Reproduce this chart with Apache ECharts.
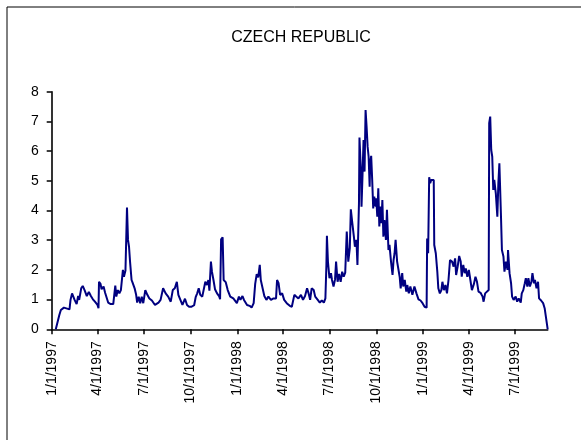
<!DOCTYPE html>
<html>
<head>
<meta charset="utf-8">
<script src="https://cdn.jsdelivr.net/npm/echarts@6/dist/echarts.min.js"></script>
<style>html,body{margin:0;padding:0;background:#fff;}#chart{width:581px;height:440px;}</style>
</head>
<body>
<div id="chart"></div>
<script>
// Series: days since 1/1/1997 and the plotted values
const startYear = 1997;
const lastDay = 975;
const dayOffsets = [8,15,18,24,35,37,40,43,45,49,52,54,58,61,65,69,73,77,81,85,90,92,93,96,98,102,105,108,111,116,121,125,127,130,133,136,138,140,142,145,148,150,152,154,157,159,163,166,168,171,174,177,180,184,188,192,197,203,210,214,219,224,229,234,238,242,246,249,253,257,262,266,270,275,280,283,286,289,292,296,299,302,305,308,310,313,315,318,321,325,329,331,333,336,338,342,346,351,357,364,368,371,375,378,384,389,393,397,400,403,406,409,411,415,418,422,426,431,436,441,443,446,449,453,457,462,468,472,477,481,485,490,494,498,502,505,508,511,515,518,523,527,531,535,538,540,541,543,546,549,551,554,557,559,562,565,568,571,574,577,580,583,586,588,591,594,596,599,601,604,605,608,609,611,613,615,617,619,621,623,625,626,628,630,632,634,637,638,640,642,644,646,648,650,652,654,657,659,662,664,667,670,672,674,676,679,681,684,686,689,691,694,697,699,702,705,709,713,717,721,725,729,733,737,738,740,742,744,746,749,751,752,755,758,760,763,766,768,771,774,777,780,783,787,790,793,795,798,801,804,806,809,812,814,817,820,823,826,830,833,836,839,843,847,849,852,855,859,860,862,864,866,868,870,873,876,878,880,883,885,888,890,893,896,897,900,903,905,908,912,915,918,922,924,927,930,932,935,937,940,943,945,948,950,953,956,958,962,966,969,971,975];
const values = [0,0.48,0.65,0.73,0.67,0.99,1.21,1.19,0.99,0.85,1.12,0.99,1.38,1.46,1.30,1.12,1.26,1.12,1.01,0.93,0.82,0.71,1.60,1.53,1.35,1.44,1.23,1.21,0.90,0.85,0.85,1.47,1.10,1.32,1.21,1.32,1.30,2.00,1.77,1.98,4.10,3.01,2.78,2.28,1.66,1.57,1.38,1.16,0.90,1.10,0.88,1.10,0.88,1.32,1.16,1.04,0.97,0.82,0.90,0.99,1.38,1.21,1.10,0.93,1.32,1.38,1.60,1.16,0.99,0.82,1.03,0.82,0.76,0.76,0.81,1.08,1.21,1.38,1.16,1.10,1.04,1.60,1.49,1.66,1.30,2.28,1.94,1.66,1.35,1.21,1.12,1.01,3.03,3.10,1.66,1.59,1.32,1.10,1.04,0.88,1.10,0.99,1.12,0.99,0.82,0.79,0.73,0.88,1.53,1.86,1.75,2.17,1.66,1.35,1.12,0.99,1.10,0.99,1.04,1.04,1.66,1.55,1.16,1.21,0.99,0.88,0.79,0.76,1.16,1.10,1.04,1.16,0.99,1.12,1.38,1.21,0.99,1.38,1.32,1.10,0.99,0.90,0.97,0.90,1.04,2.17,3.15,2.28,1.72,1.89,1.66,1.44,1.68,2.28,1.60,1.86,1.60,1.94,1.77,1.91,3.29,2.28,2.73,4.04,3.57,3.12,2.78,3.01,2.17,4.24,6.46,5.25,4.13,5.20,6.37,5.31,7.38,6.82,6.15,5.81,4.80,5.59,5.84,5.03,4.07,4.47,4.13,4.41,3.79,4.75,3.46,4.13,3.57,4.35,3.12,3.68,3.01,4.02,2.67,2.84,2.28,1.83,2.33,2.56,3.01,2.28,2.22,1.77,1.38,1.89,1.44,1.66,1.27,1.49,1.21,1.44,1.16,1.44,1.21,1.01,0.97,0.88,0.76,0.73,3.06,2.56,5.12,4.92,5.03,5.03,5.03,2.84,2.56,1.94,1.38,1.21,1.32,1.60,1.32,1.49,1.21,1.66,2.33,2.28,2.11,2.39,1.83,2.11,2.47,2.28,1.77,2.17,1.89,2.05,1.77,2.00,1.66,1.32,1.53,1.77,1.60,1.27,1.23,1.10,0.93,1.21,1.16,1.32,6.94,7.16,6.04,5.81,4.69,5.03,4.58,3.79,4.92,5.59,3.91,2.67,2.45,1.94,2.28,2.00,2.67,1.89,1.55,1.10,0.99,1.10,0.93,1.04,0.90,1.21,1.32,1.55,1.72,1.44,1.72,1.44,1.60,1.89,1.55,1.66,1.38,1.60,1.04,0.97,0.88,0.71,0.65,0];
const tickMonths = [1, 4, 7, 10];
const yTicks = [0,1,2,3,4,5,6,7,8];

// Build the daily category axis
const categories = [];
const isQuarterStart = [];
for (let d = 0; d <= lastDay; d++) {
  const dt = new Date(Date.UTC(startYear, 0, 1 + d));
  const m = dt.getUTCMonth() + 1, day = dt.getUTCDate(), y = dt.getUTCFullYear();
  categories.push(m + '/' + day + '/' + y);
  isQuarterStart.push(day === 1 && tickMonths.indexOf(m) >= 0);
}
const seriesData = dayOffsets.map((d, i) => [d, values[i]]);

const chart = echarts.init(document.getElementById('chart'), null, {renderer: 'canvas'});
const font = 'Liberation Sans, Arial, sans-serif';
chart.setOption({
  animation: false,
  backgroundColor: '#ffffff',
  title: {
    text: 'CZECH REPUBLIC',
    left: 296, top: 25, textAlign: 'center',
    textStyle: {fontFamily: font, fontSize: 16, fontWeight: 'normal', color: '#000'}
  },
  graphic: [{
    type: 'rect', shape: {x: 7, y: 7, width: 800, height: 800},
    style: {fill: null, stroke: '#000', lineWidth: 1}, silent: true
  }],
  grid: {left: 51.7, right: 33.3, top: 91.7, bottom: 110.7, outerBoundsMode: 'none', containLabel: false},
  xAxis: {
    type: 'category',
    data: categories,
    boundaryGap: false,
    axisLine: {show: true, lineStyle: {color: '#000', width: 1.6}},
    axisTick: {show: true, length: 5, interval: (i) => isQuarterStart[i], lineStyle: {color: '#000', width: 1.5}},
    axisLabel: {
      interval: (i) => isQuarterStart[i], rotate: 90, margin: 12,
      fontFamily: font, fontSize: 14, color: '#000'
    },
    splitLine: {show: false}
  },
  yAxis: {
    type: 'value', min: yTicks[0], max: yTicks[yTicks.length - 1], interval: 1,
    axisLine: {show: true, lineStyle: {color: '#000', width: 1.6}},
    axisTick: {show: true, length: 5, lineStyle: {color: '#000', width: 1.5}},
    axisLabel: {margin: 13, fontFamily: font, fontSize: 14, color: '#000'},
    splitLine: {show: false}
  },
  series: [{
    type: 'line',
    data: seriesData,
    symbol: 'none',
    lineStyle: {color: '#000080', width: 2},
    z: 1
  }]
});
</script>
</body>
</html>
